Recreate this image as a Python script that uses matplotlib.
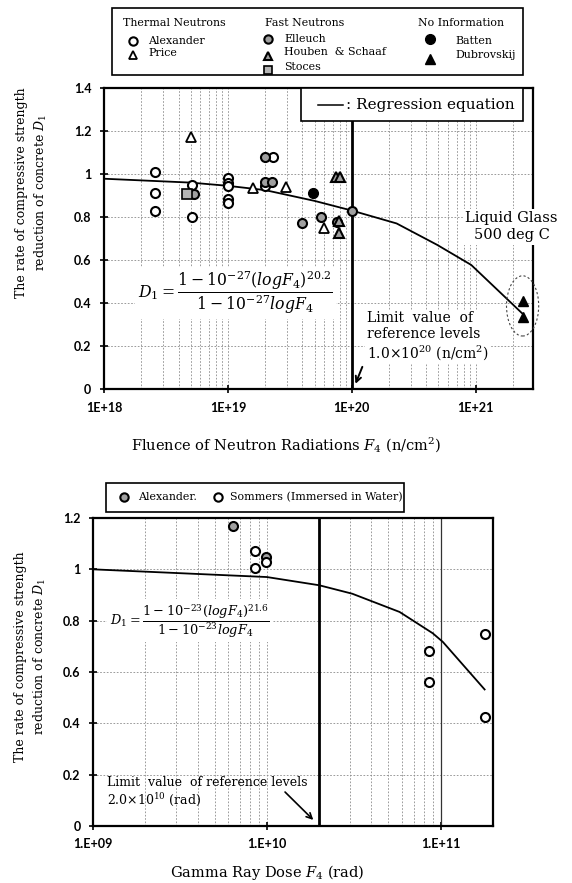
import matplotlib
matplotlib.use("Agg")
import matplotlib.pyplot as plt
from matplotlib.patches import Rectangle, Ellipse
from matplotlib.ticker import LogLocator, NullFormatter

plt.rcParams['font.family'] = ['DejaVu Serif']
plt.rcParams['mathtext.fontset'] = 'dejavuserif'

# ---- neutron fluence chart (top) ----
alex_x = [2.6e18, 2.6e18, 2.6e18, 5.1e18, 5.1e18, 1e19, 1e19, 1e19, 1e19, 1e19, 2.3e19, 2.0e19]
alex_y = [1.01, 0.91, 0.83, 0.95, 0.80, 0.98, 0.96, 0.945, 0.885, 0.865, 1.08, 0.945]
price_x = [5.0e18, 1.6e19, 2.95e19, 6.0e19]
price_y = [1.17, 0.935, 0.94, 0.75]
elleuch_x = [5.3e18, 2.0e19, 2.0e19, 2.25e19, 4.0e19, 5.6e19, 7.6e19, 1.0e20]
elleuch_y = [0.905, 1.08, 0.965, 0.965, 0.77, 0.80, 0.775, 0.83]
houben_x = [7.4e19, 8.0e19, 7.9e19, 7.9e19]
houben_y = [0.985, 0.985, 0.78, 0.725]
stoces_x = [4.7e18]
stoces_y = [0.905]
batten_x = [4.9e19]
batten_y = [0.91]
dubrov_x = [2.39e21, 2.39e21]
dubrov_y = [0.41, 0.335]
reg_x = [1e18, 5e18, 1e19, 2e19, 5e19, 1e20, 2.3e20, 4.9e20, 9.2e20, 2.39e21]
reg_y = [0.978, 0.96, 0.945, 0.925, 0.875, 0.83, 0.77, 0.67, 0.577, 0.35]
limit_n = 1e20

# ---- gamma dose chart (bottom) ----
galex_x = [6.4e9, 9.9e9]
galex_y = [1.17, 1.05]
somm_x = [8.6e9, 8.6e9, 9.9e9, 8.6e10, 8.6e10, 1.8e11, 1.8e11]
somm_y = [1.07, 1.005, 1.03, 0.68, 0.56, 0.75, 0.425]
greg_x = [1e9, 1e10, 2e10, 3.1e10, 5.8e10, 9e10, 1.03e11, 1.79e11]
greg_y = [1.0, 0.97, 0.938, 0.905, 0.834, 0.751, 0.717, 0.532]
limit_g = 2e10

W, H = 572, 883


def fx(p):
    return p / W


def fy(p):
    return 1 - p / H


grid_kw = dict(color='#8a8a8a', lw=0.6, ls=(0, (2, 2)))
tick_font = dict(family='Lato', weight='bold', size=9)

open_c = dict(marker='o', ms=6.5, mfc='white', mec='black', mew=1.5, ls='none', zorder=5)
grey_c = dict(marker='o', ms=6.5, mfc='#a0a0a0', mec='black', mew=1.5, ls='none', zorder=5)
open_t = dict(marker='^', ms=6.5, mfc='white', mec='black', mew=1.3, ls='none', zorder=5)
grey_t = dict(marker='^', ms=6.5, mfc='#a0a0a0', mec='black', mew=1.5, ls='none', zorder=5)
grey_s = dict(marker='s', ms=6.5, mfc='#b5b5b5', mec='black', mew=1.2, ls='none', zorder=5)
black_c = dict(marker='o', ms=7, mfc='black', mec='black', ls='none', zorder=5)
black_t = dict(marker='^', ms=7, mfc='black', mec='black', ls='none', zorder=5)


def style_axes(ax, ymax):
    ax.set_xscale('log')
    ax.set_ylim(0, ymax)
    yt = [round(0.2 * i, 1) for i in range(int(round(ymax / 0.2)) + 1)]
    ax.set_yticks(yt)
    ax.set_yticklabels([f'{v:g}' for v in yt], **tick_font)
    ax.xaxis.set_minor_locator(LogLocator(base=10, subs=range(2, 10), numticks=20))
    ax.xaxis.set_minor_formatter(NullFormatter())
    ax.grid(True, which='both', axis='x', **grid_kw)
    ax.grid(True, which='major', axis='y', **grid_kw)
    ax.set_axisbelow(True)
    for s in ax.spines.values():
        s.set_linewidth(1.6)
    ax.tick_params(which='major', direction='inout', length=6, width=1.2, pad=6)
    ax.tick_params(which='minor', length=0)


fig = plt.figure(figsize=(W / 100, H / 100), dpi=100)

# top axes
ax1 = fig.add_axes([fx(104), fy(389), (533 - 104) / W, (389 - 88) / H])
ax1.set_xlim(1e18, 2.9e21)
style_axes(ax1, 1.4)
ax1.set_xticks([1e18, 1e19, 1e20, 1e21])
ax1.set_xticklabels(['1E+18', '1E+19', '1E+20', '1E+21'], **tick_font)
ax1.plot(reg_x, reg_y, color='black', lw=1.3, zorder=4)
ax1.axvline(limit_n, color='black', lw=2, zorder=3)
ax1.plot(alex_x, alex_y, **open_c)
ax1.plot(price_x, price_y, **open_t)
ax1.plot(elleuch_x, elleuch_y, **grey_c)
ax1.plot(houben_x, houben_y, **grey_t)
ax1.plot(stoces_x, stoces_y, **grey_s)
ax1.plot(batten_x, batten_y, **black_c)
ax1.plot(dubrov_x, dubrov_y, **black_t)

# dashed ellipse around the liquid glass points
cx, cy = ax1.transAxes.inverted().transform(
    ax1.transData.transform((dubrov_x[0], sum(dubrov_y) / len(dubrov_y))))
ax1.add_patch(Ellipse((cx, cy + 0.01), 0.075, 0.2, transform=ax1.transAxes, fill=False,
                      ec='#444444', lw=0.8, ls=(0, (2, 2)), zorder=6, clip_on=False))

ax1.text(1.95e21, 0.755, 'Liquid Glass\n500 deg C', ha='center', va='center', fontsize=10.5,
         linespacing=1.25, bbox=dict(fc='white', ec='none', pad=2), zorder=7, clip_on=False)
ax1.text(1.33e20, 0.245, 'Limit  value  of\nreference levels\n1.0×10$^{20}$ (n/cm$^2$)', ha='left',
         va='center', fontsize=10, linespacing=1.15, bbox=dict(fc='white', ec='none', pad=1.5), zorder=6)
ax1.annotate('', xy=(1.05e20, 0.012), xytext=(1.24e20, 0.115),
             arrowprops=dict(arrowstyle='->', color='black', lw=1.4), zorder=7)
ax1.text(1.15e19, 0.445, r'$D_1 = \dfrac{1-10^{-27}(logF_4)^{20.2}}{1-10^{-27}logF_4}$',
         ha='center', va='center', fontsize=11.3, bbox=dict(fc='white', ec='none', pad=2), zorder=6)

# regression legend box
ax1.add_patch(Rectangle((0.459, 0.89), 0.518, 0.11, transform=ax1.transAxes, fc='white',
                        ec='black', lw=1.2, zorder=6, clip_on=False))
ax1.plot([0.499, 0.557], [0.944, 0.944], transform=ax1.transAxes, color='black', lw=1.1, zorder=7)
ax1.text(0.565, 0.944, ': Regression equation', transform=ax1.transAxes, ha='left', va='center',
         fontsize=11, zorder=7)

# bottom axes
ax2 = fig.add_axes([fx(93), fy(826), (493 - 93) / W, (826 - 518) / H])
ax2.set_xlim(1e9, 2e11)
style_axes(ax2, 1.2)
ax2.set_xticks([1e9, 1e10, 1e11])
ax2.set_xticklabels(['1.E+09', '1.E+10', '1.E+11'], **tick_font)
ax2.plot(greg_x, greg_y, color='black', lw=1.3, zorder=4)
ax2.axvline(limit_g, color='black', lw=2, zorder=3)
ax2.axvline(1e11, color='#333333', lw=0.9, zorder=2)
ax2.plot(galex_x, galex_y, **grey_c)
ax2.plot(somm_x, somm_y, **open_c)
ax2.text(3.6e9, 0.8, r'$D_1 = \dfrac{1-10^{-23}(logF_4)^{21.6}}{1-10^{-23}logF_4}$',
         ha='center', va='center', fontsize=9.3, bbox=dict(fc='white', ec='none', pad=2), zorder=6)
ax2.text(1.2e9, 0.132, 'Limit  value  of reference levels\n2.0×10$^{10}$ (rad)', ha='left',
         va='center', fontsize=9, linespacing=1.2, zorder=6)
ax2.annotate('', xy=(1.9e10, 0.016), xytext=(1.24e10, 0.14),
             arrowprops=dict(arrowstyle='->', color='black', lw=1.2), zorder=7)

# axis titles
fig.text(fx(286), fy(445), 'Fluence of Neutron Radiations $F_4$ (n/cm$^2$)', ha='center',
         va='center', fontsize=10.5)
fig.text(fx(267), fy(873), 'Gamma Ray Dose $F_4$ (rad)', ha='center', va='center', fontsize=10.5)
ylab = 'The rate of compressive strength\nreduction of concrete $D_1$'
fig.text(fx(32), fy(193), ylab, ha='center', va='center', rotation=90, fontsize=9,
         linespacing=1.4)
fig.text(fx(31), fy(657), ylab, ha='center', va='center', rotation=90, fontsize=9,
         linespacing=1.4)

# figure-level legends (pixel coordinates)
lx = fig.add_axes([0, 0, 1, 1])
lx.set_xlim(0, W)
lx.set_ylim(H, 0)
lx.axis('off')
lx.patch.set_alpha(0)

lx.add_patch(Rectangle((112, 8), 411, 67, fc='white', ec='black', lw=1.2))
fs = 7.9
lx.text(123, 23, 'Thermal Neutrons', fontsize=fs, va='center')
lx.text(265, 23, 'Fast Neutrons', fontsize=fs, va='center')
lx.text(418, 23, 'No Information', fontsize=fs, va='center')

lx.plot([133], [41], **dict(open_c, ms=6))
lx.text(148, 41, 'Alexander', fontsize=fs, va='center')
lx.plot([133], [55], **dict(open_t, ms=6))
lx.text(148, 53, 'Price', fontsize=fs, va='center')

lx.plot([268], [39], **dict(grey_c, ms=6))
lx.text(284, 39, 'Elleuch', fontsize=fs, va='center')
lx.plot([268], [56], **dict(grey_t, ms=6))
lx.text(284, 52, 'Houben  & Schaaf', fontsize=fs, va='center')
lx.plot([268], [70], **dict(grey_s, ms=6))
lx.text(284, 67, 'Stoces', fontsize=fs, va='center')

lx.plot([430], [39], **dict(black_c, ms=7))
lx.text(455, 41, 'Batten', fontsize=fs, va='center')
lx.plot([430], [59], **dict(black_t, ms=7))
lx.text(455, 55, 'Dubrovskij', fontsize=fs, va='center')

lx.add_patch(Rectangle((106, 483), 298, 29, fc='white', ec='black', lw=1.2))
lx.plot([124], [497], **dict(grey_c, ms=6))
lx.text(138, 497, 'Alexander.', fontsize=fs, va='center')
lx.plot([218], [497], **dict(open_c, ms=6))
lx.text(230, 497, 'Sommers (Immersed in Water)', fontsize=fs, va='center')

fig.savefig('out.png', dpi=100)
